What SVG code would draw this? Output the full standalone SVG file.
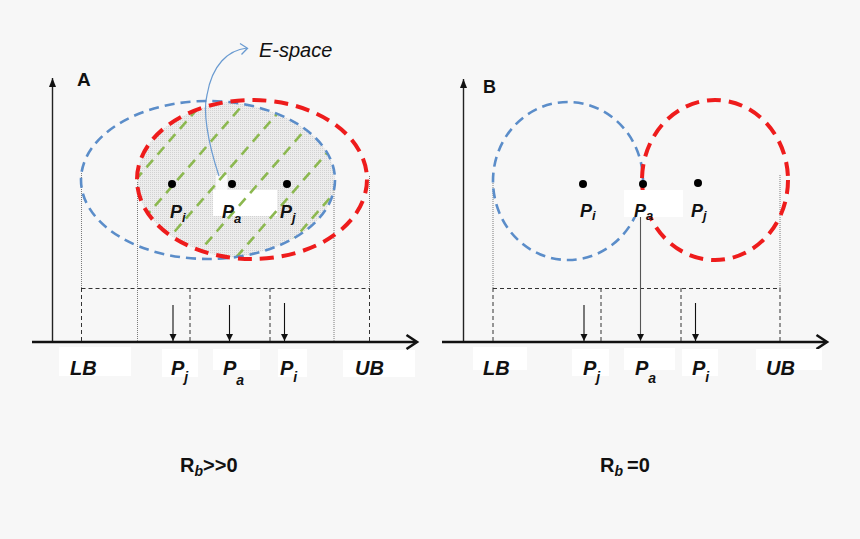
<svg xmlns="http://www.w3.org/2000/svg" width="860" height="539" viewBox="0 0 860 539">
<style>
.bl{fill:none;stroke:#5b8dc9;stroke-width:2.6;stroke-dasharray:10 6}
.rd{fill:none;stroke:#ee1c1c;stroke-width:4;stroke-dasharray:14 8}
.gr{fill:none;stroke:#8cb850;stroke-width:2.6;stroke-dasharray:10 7}
.dl{fill:none;stroke:#7a7a7a;stroke-width:1;stroke-dasharray:1 1}
.dh{fill:none;stroke:#333;stroke-width:1;stroke-dasharray:4 3}
.ar{fill:none;stroke:#111;stroke-width:1.1}
.ax{fill:none;stroke:#111;stroke-width:2.6}
.ay{fill:none;stroke:#222;stroke-width:1.4}
.wb{fill:#ffffff}
.t{font-family:"Liberation Sans",Arial,sans-serif;font-weight:bold;font-style:italic;fill:#111}
.s{font-size:13px}
.sb{font-size:14px}
.h{font-family:"Liberation Sans",Arial,sans-serif;font-weight:bold;fill:#111}
.dot{fill:#000}
</style>
<defs>
<marker id="ah" markerUnits="userSpaceOnUse" markerWidth="8" markerHeight="8" refX="7" refY="3.5" orient="auto">
<path d="M0,0 L7,3.5 L0,7 z" fill="#111"/>
</marker>
<marker id="ay" markerUnits="userSpaceOnUse" markerWidth="10" markerHeight="8" refX="9" refY="3.5" orient="auto">
<path d="M0,0 L9,3.5 L0,7 z" fill="#111"/>
</marker>
<pattern id="stip" width="2" height="2" patternUnits="userSpaceOnUse">
<rect width="2" height="2" fill="#ededed"/>
<rect width="1" height="1" fill="#d2d2d2"/>
</pattern>
<clipPath id="cb"><ellipse cx="208" cy="180" rx="127" ry="79"/></clipPath>
<clipPath id="cr"><ellipse cx="252" cy="179.5" rx="115" ry="79.5"/></clipPath>
</defs>
<rect width="860" height="539" fill="#f7f7f7"/>

<g id="espace-region">
<g clip-path="url(#cb)">
<ellipse cx="252" cy="179.5" rx="115" ry="79.5" fill="url(#stip)"/>
</g>
<rect x="213" y="190" width="64" height="26" class="wb"/>
<rect x="216" y="175" width="11" height="21" fill="#ffffff" opacity="0.75"/>
<g clip-path="url(#cb)">
<g clip-path="url(#cr)">
<line class="gr" x1="15.2" y1="270" x2="171.7" y2="90"/>
<line class="gr" x1="57.2" y1="270" x2="213.7" y2="90"/>
<line class="gr" x1="99.2" y1="270" x2="255.7" y2="90"/>
<line class="gr" x1="141.2" y1="270" x2="297.7" y2="90"/>
<line class="gr" x1="183.2" y1="270" x2="339.7" y2="90"/>
<line class="gr" x1="225.2" y1="270" x2="381.7" y2="90"/>
<line class="gr" x1="267.2" y1="270" x2="423.7" y2="90"/>
<line class="gr" x1="309.2" y1="270" x2="465.7" y2="90"/>
</g>
</g>
</g>

<g id="connectors">
<line class="ay" x1="52.5" y1="342" x2="52.5" y2="78" marker-end="url(#ay)"/>
<line class="ax" x1="32" y1="342" x2="416" y2="342"/>
<polyline class="ax" points="406.5,335 417,342 406.5,349"/>
<line class="dl" x1="81.5" y1="173" x2="81.5" y2="288"/>
<line class="dh" x1="81.5" y1="288" x2="81.5" y2="342"/>
<line class="dl" x1="137.5" y1="182" x2="137.5" y2="342"/>
<line class="dl" x1="334" y1="184" x2="334" y2="342"/>
<line class="dl" x1="369.5" y1="176" x2="369.5" y2="288"/>
<line class="dh" x1="369.5" y1="288" x2="369.5" y2="342"/>
<line class="dh" x1="81.5" y1="288.5" x2="369.5" y2="288.5"/>
<line class="dh" x1="190" y1="288" x2="190" y2="342"/>
<line class="dh" x1="270" y1="288" x2="270" y2="342"/>
<line class="ar" x1="173" y1="305" x2="173" y2="341" marker-end="url(#ah)"/>
<line class="ar" x1="229.5" y1="305" x2="229.5" y2="341" marker-end="url(#ah)"/>
<line class="ar" x1="284.5" y1="303" x2="284.5" y2="341" marker-end="url(#ah)"/>
<path d="M219,176 C207,140 203,110 207,95 C212,65 228,50 247,48" fill="none" stroke="#6a9bd1" stroke-width="1.2"/>
<polyline points="240,43.5 247.5,48.3 241.5,54.5" fill="none" stroke="#6a9bd1" stroke-width="1.3"/>
<line class="ay" x1="463.5" y1="342" x2="463.5" y2="79" marker-end="url(#ay)"/>
<line class="ax" x1="442" y1="342" x2="826" y2="342"/>
<polyline class="ax" points="816.5,335 827,342 816.5,349"/>
<line class="dl" x1="493" y1="173" x2="493" y2="288"/>
<line class="dh" x1="493" y1="288" x2="493" y2="342"/>
<line class="dl" x1="780" y1="175" x2="780" y2="288"/>
<line class="dh" x1="780" y1="288" x2="780" y2="342"/>
<line class="dh" x1="493" y1="288.5" x2="780" y2="288.5"/>
<line class="dh" x1="601" y1="288" x2="601" y2="342"/>
<line class="dh" x1="681" y1="288" x2="681" y2="342"/>
<line class="ar" x1="584" y1="305" x2="584" y2="341" marker-end="url(#ah)"/>
<line x1="640.5" y1="217" x2="640.5" y2="341" stroke="#555" stroke-width="1.1" marker-end="url(#ah)"/>
<line class="ar" x1="695.5" y1="303" x2="695.5" y2="341" marker-end="url(#ah)"/>
</g>

<g id="ellipse-blue-A"><ellipse class="bl" cx="208" cy="180" rx="127" ry="79"/></g>
<g id="ellipse-red-A"><ellipse class="rd" cx="252" cy="179.5" rx="115" ry="79.5"/></g>
<g id="circle-blue-B"><ellipse class="bl" cx="568" cy="181" rx="75" ry="79"/></g>
<g id="circle-red-B"><ellipse class="rd" cx="715" cy="180" rx="73" ry="80"/></g>

<g id="points-A">
<circle class="dot" cx="172" cy="184" r="4"/>
<circle class="dot" cx="232" cy="184" r="4"/>
<circle class="dot" cx="287" cy="184" r="4"/>
</g>
<g id="points-B">
<circle class="dot" cx="583" cy="184" r="4"/>
<circle class="dot" cx="643" cy="184" r="4"/>
<circle class="dot" cx="698" cy="183" r="4"/>
</g>

<g id="title-A"><text class="h" x="77" y="86" font-size="19">A</text></g>
<g id="title-B"><text class="h" x="483" y="93" font-size="18">B</text></g>
<g id="label-espace"><text x="259" y="57" font-family="Liberation Sans,Arial,sans-serif" font-style="italic" font-size="20" fill="#111">E-space</text></g>

<g id="inner-labels-A">
<text class="t" x="170" y="218" font-size="18">P<tspan class="s" dy="4">i</tspan></text>
<text class="t" x="222" y="218" font-size="18">P<tspan class="s" dy="5">a</tspan></text>
<text class="t" x="280" y="218" font-size="18">P<tspan class="s" dy="4">j</tspan></text>
</g>
<g id="inner-labels-B">
<rect x="624" y="190" width="59" height="27" class="wb"/>
<text class="t" x="580" y="217" font-size="18">P<tspan class="s" dy="3">i</tspan></text>
<text class="t" x="634" y="217" font-size="18">P<tspan class="s" dy="3">a</tspan></text>
<text class="t" x="691" y="217" font-size="18">P<tspan class="s" dy="3">j</tspan></text>
</g>

<g id="axis-labels-A">
<rect x="59" y="347" width="72" height="29" class="wb"/>
<rect x="162" y="349" width="36" height="28" class="wb"/>
<rect x="213" y="349" width="47" height="21" class="wb"/>
<rect x="278" y="349" width="29" height="28" class="wb"/>
<rect x="343" y="350" width="72" height="27" class="wb"/>
<text class="t" x="70" y="375" font-size="20">LB</text>
<text class="t" x="171" y="375" font-size="20">P<tspan class="sb" dy="7">j</tspan></text>
<text class="t" x="223" y="375" font-size="20">P<tspan class="sb" dy="10">a</tspan></text>
<text class="t" x="280" y="375" font-size="20">P<tspan class="sb" dy="7">i</tspan></text>
<text class="t" x="355" y="375" font-size="20">UB</text>
</g>
<g id="axis-labels-B">
<rect x="473" y="347" width="54" height="23" class="wb"/>
<rect x="572" y="349" width="37" height="27" class="wb"/>
<rect x="624" y="348" width="51" height="22" class="wb"/>
<rect x="682" y="349" width="36" height="27" class="wb"/>
<rect x="756" y="349" width="66" height="21" class="wb"/>
<text class="t" x="483" y="375" font-size="20">LB</text>
<text class="t" x="583" y="375" font-size="20">P<tspan class="sb" dy="7">j</tspan></text>
<text class="t" x="635" y="375" font-size="20">P<tspan class="sb" dy="8">a</tspan></text>
<text class="t" x="692" y="375" font-size="20">P<tspan class="sb" dy="7">i</tspan></text>
<text class="t" x="766" y="375" font-size="20">UB</text>
</g>

<g id="caption-A"><text class="h" x="180" y="472" font-size="20">R<tspan font-style="italic" font-size="14" dy="4">b</tspan><tspan dy="-4">&gt;&gt;0</tspan></text></g>
<g id="caption-B"><text class="h" x="600" y="472" font-size="20">R<tspan font-style="italic" font-size="14" dy="4">b</tspan><tspan dy="-4" x="627">=0</tspan></text></g>
</svg>
